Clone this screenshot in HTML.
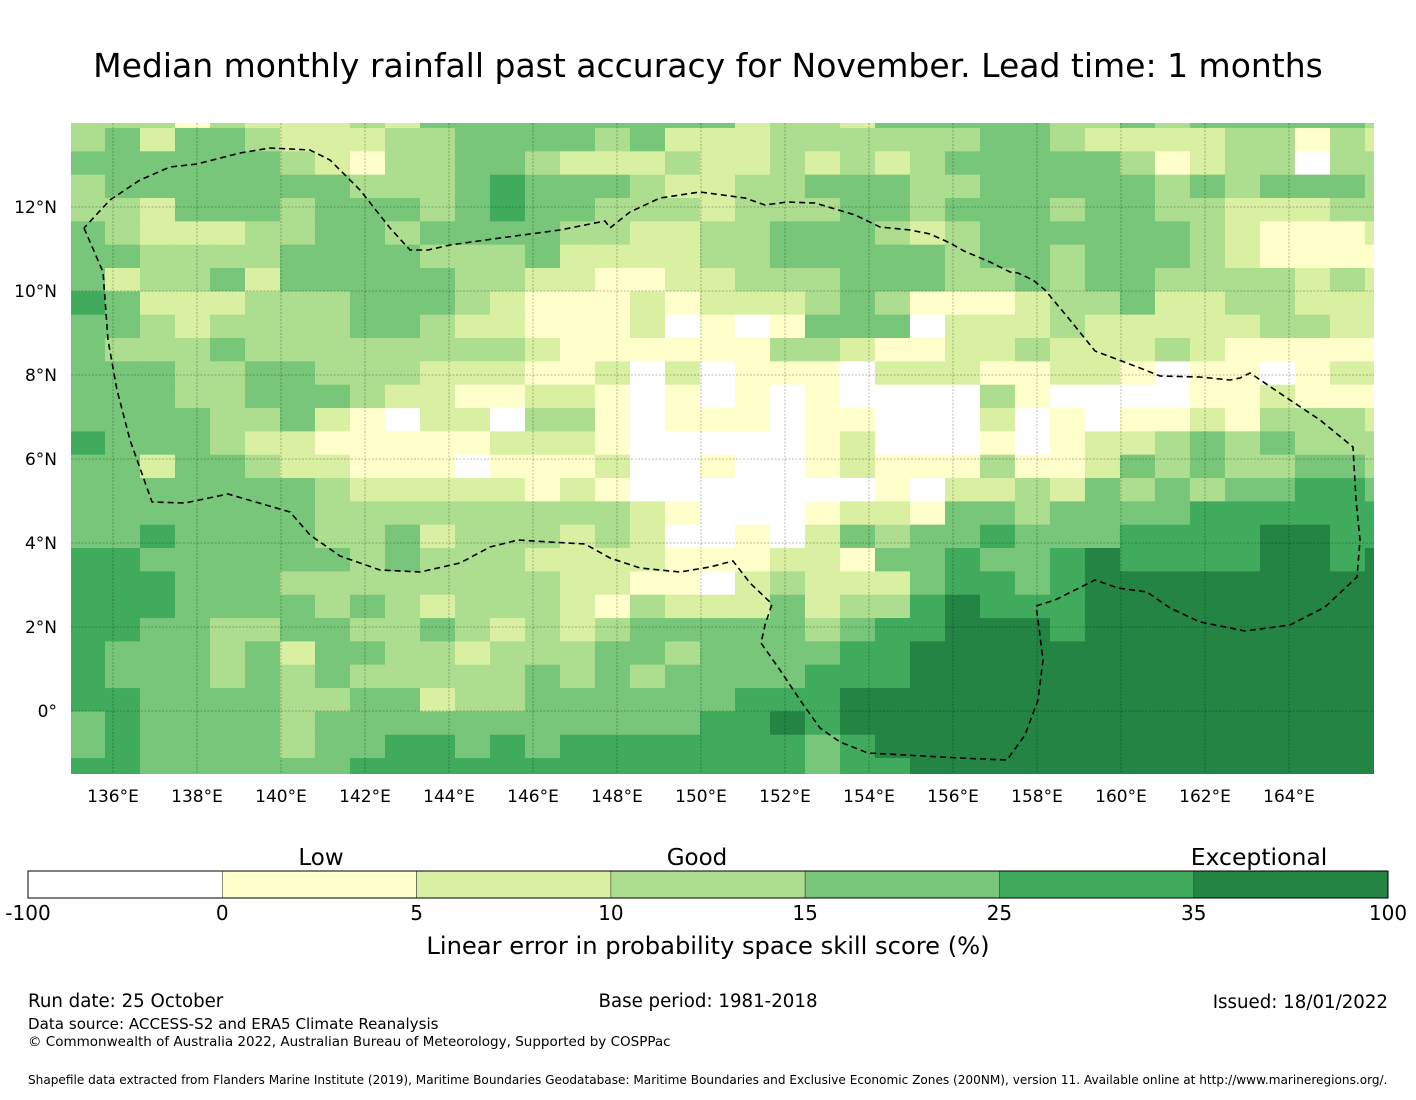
<!DOCTYPE html>
<html><head><meta charset="utf-8">
<style>
html,body{margin:0;padding:0;background:#fff;}
body{width:1416px;height:1095px;position:relative;overflow:hidden;font-family:"Liberation Sans","DejaVu Sans",sans-serif;}
</style></head>
<body>
<svg id="chart" width="1416" height="1095" xmlns="http://www.w3.org/2000/svg" font-family="DejaVu Sans, Liberation Sans, sans-serif">
<text x="708" y="77" text-anchor="middle" font-size="33">Median monthly rainfall past accuracy for November. Lead time: 1 months</text>
<defs><clipPath id="plotclip"><rect x="71" y="123" width="1303" height="651"/></clipPath></defs>
<g id="cells" clip-path="url(#plotclip)"></g>
<g id="grid" clip-path="url(#plotclip)"></g>
<polyline id="eez" fill="none" stroke="#000" stroke-width="1.6" stroke-dasharray="6,4" clip-path="url(#plotclip)"/>
<g id="axes"></g>
<g id="cbar"></g>
<text x="321" y="865" text-anchor="middle" font-size="23">Low</text>
<text x="697" y="865" text-anchor="middle" font-size="23">Good</text>
<text x="1259" y="865" text-anchor="middle" font-size="23.5">Exceptional</text>
<text x="708" y="954" text-anchor="middle" font-size="24.2">Linear error in probability space skill score (%)</text>
<text x="28" y="1007" font-size="18.2">Run date: 25 October</text>
<text x="708" y="1007" text-anchor="middle" font-size="18.2">Base period: 1981-2018</text>
<text x="1388" y="1008" text-anchor="end" font-size="18.2">Issued: 18/01/2022</text>
<text x="28" y="1029" font-size="15.1">Data source: ACCESS-S2 and ERA5 Climate Reanalysis</text>
<text x="28" y="1046" font-size="13.5">© Commonwealth of Australia 2022, Australian Bureau of Meteorology, Supported by COSPPac</text>
<text x="28" y="1084" font-size="12.1">Shapefile data extracted from Flanders Marine Institute (2019), Maritime Boundaries Geodatabase: Maritime Boundaries and Exclusive Economic Zones (200NM), version 11. Available online at http://www.marineregions.org/.</text>
</svg>
<script>
// ---- data ----
const levelValues = [-20, 2.5, 7.5, 12.5, 20, 30, 45]; // representative skill (%) per digit code
const rows = [
"3331322232444"+"4444442332444"+"443343444443",
"3424432223344"+"4434222333333"+"443222233132",
"4444443213344"+"3222322323234"+"444431233033",
"3444444433345"+"4443223344433"+"444443434443",
"3324443444345"+"4433323334434"+"443443322233",
"4322233443444"+"4332233444323"+"444444321112",
"4433334444333"+"4222233444443"+"443444321111",
"4233424444433"+"2211223334443"+"343443333232",
"5422233344432"+"1112122234311"+"123342233222",
"4432333344322"+"1112010144402"+"223222223322",
"4333433333333"+"2111111332112"+"232223211111",
"4443344333222"+"1120201110222"+"112210110122",
"4443344432211"+"2210101010000"+"310000112111",
"4444334210220"+"3310111011000"+"201011213332",
"5444322111112"+"2210000012000"+"101223434333",
"4424432211101"+"1120010012111"+"311243433443",
"4444444322222"+"1210000000102"+"232434344554",
"4444444333333"+"3332100012214"+"434444555555",
"4454444334233"+"3232001024344"+"544455556655",
"5544444434333"+"2222111221445"+"445655556656",
"5554443333333"+"3221102322245"+"545666666666",
"5554444343233"+"3213222423356"+"555666666666",
"5544334433432"+"3234444434556"+"665666666666",
"5444342443323"+"3344344445566"+"666666666666",
"5444343433333"+"4343444455566"+"666666666666",
"5544443344233"+"4444445556666"+"666666666666",
"4544443444444"+"4444455656666"+"666666666666",
"4544443445545"+"4555555545666"+"666666666666",
"5544444455555"+"5555555545566"+"666666666666"
];
const lonTicks = [136,138,140,142,144,146,148,150,152,154,156,158,160,162,164];
const latTicks = [12,10,8,6,4,2,0];
const cbarBounds = ["-100","0","5","10","15","25","35","100"];
const cbarColors = ["#ffffff","#ffffcc","#d9f0a3","#addd8e","#78c679","#41ab5d","#238443"];
const binEdges = [0,5,10,15,25,35];

// ---- scales ----
const NS="http://www.w3.org/2000/svg";
const xOf = lon => 71 + (lon-135)*42.0;
const yOf = lat => 123 + (14-lat)*42.0;
const lon0 = 134.976, dLon = 0.8333, lat0 = 14.4366, dLat = 0.5556;
function colorOf(v){let i=0;while(i<binEdges.length&&v>=binEdges[i])i++;return cbarColors[i];}
function mk(tag,attrs,parent){const e=document.createElementNS(NS,tag);for(const k in attrs)e.setAttribute(k,attrs[k]);parent.appendChild(e);return e;}

const gc=document.getElementById('cells');
rows.forEach((row,r)=>{
  for(let c=0;c<row.length;c++){
    const v=levelValues[+row[c]];
    const x1=xOf(lon0+dLon*c), x2=xOf(lon0+dLon*(c+1));
    const y1=yOf(lat0-dLat*r), y2=yOf(lat0-dLat*(r+1));
    const e=mk('rect',{x:x1,y:y1,width:x2-x1+0.6,height:y2-y1+0.6,fill:colorOf(v)},gc);
    
    
  }
});

const gg=document.getElementById('grid');
lonTicks.forEach(l=>{const e=mk('line',{x1:xOf(l),x2:xOf(l),y1:123,y2:774,stroke:'#000','stroke-opacity':0.35,'stroke-width':0.8,'stroke-dasharray':'2,1.5'},gg);
  });
latTicks.forEach(l=>{const e=mk('line',{x1:71,x2:1374,y1:yOf(l),y2:yOf(l),stroke:'#000','stroke-opacity':0.35,'stroke-width':0.8,'stroke-dasharray':'2,1.5'},gg);
  });

const ga=document.getElementById('axes');
lonTicks.forEach(l=>{const t=mk('text',{x:xOf(l),y:802,'text-anchor':'middle','font-size':17},ga);t.textContent=l+'°E';
  });
latTicks.forEach(l=>{const t=mk('text',{x:57,y:yOf(l)+6,'text-anchor':'end','font-size':17},ga);t.textContent=l===0?'0°':l+'°N';
  });

const eezPts=[[84,228],[103,272],[108,340],[117,390],[130,440],[152,502],[185,503],[228,494],[290,512],[310,535],[340,556],[380,570],[420,572],[460,563],[490,547],[518,540],[550,542],[585,544],[610,558],[640,568],[680,572],[710,567],[733,561],[750,583],[772,604],[765,625],[761,643],[780,670],[800,700],[820,728],[840,742],[868,753],[960,758],[1007,760],[1025,735],[1038,700],[1043,660],[1038,620],[1036,606],[1055,600],[1075,590],[1095,580],[1118,588],[1147,592],[1170,608],[1200,622],[1245,631],[1290,625],[1325,607],[1357,577],[1360,540],[1356,500],[1353,447],[1320,420],[1290,400],[1250,373],[1240,378],[1230,380],[1200,377],[1160,376],[1140,368],[1095,351],[1070,320],[1045,290],[1033,280],[1018,273],[1010,272],[990,262],[964,251],[950,243],[930,234],[910,230],[880,227],[855,215],[815,203],[787,202],[765,205],[745,198],[700,192],[660,198],[630,212],[610,228],[605,221],[560,230],[500,238],[450,245],[428,250],[410,250],[390,228],[360,190],[330,160],[310,150],[270,148],[240,153],[197,164],[170,167],[140,180],[110,200],[84,228]];
document.getElementById('eez').setAttribute('points',eezPts.map(p=>p.join(',')).join(' '));

const gb=document.getElementById('cbar');
const cbX=28,cbW=1360,cbY=871,cbH=27,seg=cbW/cbarColors.length;
cbarColors.forEach((col,i)=>{const e=mk('rect',{x:cbX+i*seg,y:cbY,width:seg,height:cbH,fill:col,stroke:'#444','stroke-width':0.6},gb);
  });
mk('rect',{x:cbX,y:cbY,width:cbW,height:cbH,fill:'none',stroke:'#000','stroke-width':1},gb);
cbarBounds.forEach((b,i)=>{const t=mk('text',{x:cbX+i*seg,y:920,'text-anchor':'middle','font-size':20},gb);t.textContent=b;
  });
</script>
</body></html>
